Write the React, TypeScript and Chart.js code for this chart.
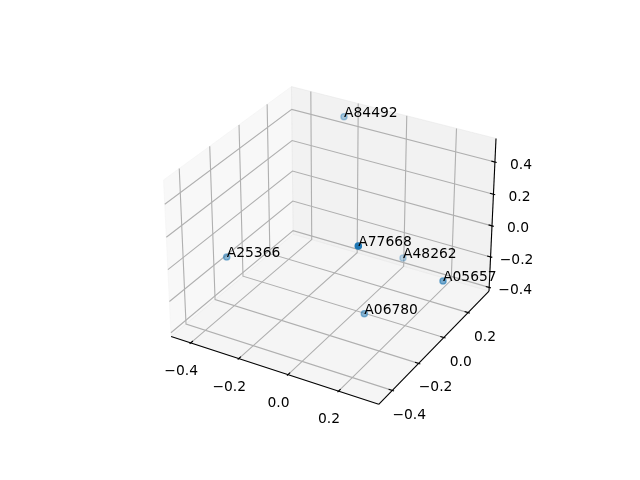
import React, { useEffect, useRef } from "react";
import { Chart, registerables } from "chart.js";
Chart.register(...registerables);

const names = ["A84492", "A77668", "A48262", "A05657", "A06780", "A25366"];
const xs = [-0.2203, -0.0452, 0.0324, 0.2356, 0.0972, -0.4139];
const ys = [0.3077, 0.0975, 0.3076, 0.2323, -0.1207, -0.22];
const zs = [0.5, -0.1, -0.3, -0.3, -0.3, -0.1];
const alphas = [0.36, 1, 0.28, 0.58, 0.5, 0.5];
const xTicks = [-0.4, -0.2, 0, 0.2];
const yTicks = [-0.4, -0.2, 0, 0.2];
const zTicks = [-0.4, -0.2, 0, 0.2, 0.4];
const xLim = [-0.4663, 0.3387];
const yLim = [-0.482, 0.362];
const zLim = [-0.405, 0.525];

const AX = { left: 143.2, right: 512.8, top: 58, bottom: 427.6 };
const VIEW = { xmin: -0.095, xmax: 0.09, ymin: -0.095, ymax: 0.09 };
const deg = Math.PI / 180;
function norm(v) { const n = Math.hypot(...v); return v.map((c) => c / n); }
function cross(a, b) { return [a[1]*b[2]-a[2]*b[1], a[2]*b[0]-a[0]*b[2], a[0]*b[1]-a[1]*b[0]]; }
function dot(a, b) { return a[0]*b[0]+a[1]*b[1]+a[2]*b[2]; }
const scaleBox = 1.8294640721620434 / Math.hypot(4, 4, 3);
const box = [4*scaleBox, 4*scaleBox, 3*scaleBox];
const R = box.map((b) => b / 2);
const el = 30*deg, az = -60*deg, dist = 10;
const eye = [R[0]+dist*Math.cos(el)*Math.cos(az), R[1]+dist*Math.cos(el)*Math.sin(az), R[2]+dist*Math.sin(el)];
const w = norm(eye.map((e,i)=>e-R[i]));
const u = norm(cross([0,0,1], w));
const v = cross(w, u);
function project(x, y, z) {
  const p = [(x-xLim[0])/(xLim[1]-xLim[0])*box[0], (y-yLim[0])/(yLim[1]-yLim[0])*box[1], (z-zLim[0])/(zLim[1]-zLim[0])*box[2]];
  const d = p.map((c,i)=>c-eye[i]);
  const zz = dot(w,d);
  return { x: dot(u,d)/-zz, y: dot(v,d)/-zz };
}

function line(pts, color, width) {
  return { type:"scatter", showLine:true, data: pts.map(p=>project(p[0],p[1],p[2])), borderColor:color, borderWidth:width, pointRadius:0, fill:false };
}
function pane(pts, color) { return { ...line(pts,color,1), backgroundColor:color, fill:"shape" }; }
const fmt=(t)=>(t<0?"\u2212":"")+Math.abs(t).toFixed(1);

export default function App() {
  const ref = useRef(null);
  useEffect(() => {
    document.body.style.margin = "0";
    const m=(l)=>(l[1]-l[0])/48;
    const x0=xLim[0]-m(xLim),x1=xLim[1]+m(xLim),y0=yLim[0]-m(yLim),y1=yLim[1]+m(yLim),z0=zLim[0]-m(zLim),z1=zLim[1]+m(zLim);
    const ds = [
      pane([[x0,y0,z0],[x0,y1,z0],[x0,y1,z1],[x0,y0,z1],[x0,y0,z0]],"rgba(242,242,242,0.5)"),
      pane([[x0,y1,z0],[x1,y1,z0],[x1,y1,z1],[x0,y1,z1],[x0,y1,z0]],"rgba(230,230,230,0.5)"),
      pane([[x0,y0,z0],[x1,y0,z0],[x1,y1,z0],[x0,y1,z0],[x0,y0,z0]],"rgba(236,236,236,0.5)"),
      ...xTicks.map(t=>line([[t,y0,z0],[t,y1,z0],[t,y1,z1]],"#b0b0b0",1.11)),
      ...yTicks.map(t=>line([[x1,t,z0],[x0,t,z0],[x0,t,z1]],"#b0b0b0",1.11)),
      ...zTicks.map(t=>line([[x0,y0,t],[x0,y1,t],[x1,y1,t]],"#b0b0b0",1.11)),
      line([[x0,y0,z0],[x1,y0,z0]],"#000",1.11),
      line([[x1,y0,z0],[x1,y1,z0]],"#000",1.11),
      line([[x1,y1,z0],[x1,y1,z1]],"#000",1.11),
      ...xTicks.map(t=>{const d=(y1-y0)/12;return line([[t,y0-0.1*d,z0],[t,y0+0.2*d,z0]],"#000",1.11)}),
      ...yTicks.map(t=>{const d=(x1-x0)/12;return line([[x1+0.1*d,t,z0],[x1-0.2*d,t,z0]],"#000",1.11)}),
      ...zTicks.map(t=>{const d=(x1-x0)/12;return line([[x1+0.1*d,y1,t],[x1-0.2*d,y1,t]],"#000",1.11)}),
      { type:"scatter", data: names.map((n,i)=>project(xs[i],ys[i],zs[i])), pointRadius:3.1, pointBorderWidth:1.39,
        pointBackgroundColor: alphas.map(a=>`rgba(31,119,180,${a})`), pointBorderColor: alphas.map(a=>`rgba(31,119,180,${a})`) },
    ];
    const labels = {
      id:"labels3d",
      afterDatasetsDraw(c){
        const {ctx,scales:{x,y}}=c;
        const px=(p)=>[x.getPixelForValue(p.x),y.getPixelForValue(p.y)];
        ctx.save();
        ctx.fillStyle="#000"; ctx.font='13.89px "DejaVu Sans"';
        ctx.textAlign="left"; ctx.textBaseline="alphabetic";
        names.forEach((n,i)=>{const [a,b]=px(project(xs[i],ys[i],zs[i])); ctx.fillText(n,a,b);});
        ctx.textAlign="center"; ctx.textBaseline="middle";
        xTicks.forEach(t=>{const [a,b]=px(project(t,y0,z0)); ctx.fillText(fmt(t),a-9.5,b+28.5);});
        yTicks.forEach(t=>{const [a,b]=px(project(x1,t,z0)); ctx.fillText(fmt(t),a+17,b+24.5);});
        zTicks.forEach(t=>{const [a,b]=px(project(x1,y1,t)); ctx.fillText(fmt(t),a+26,b+3);});
        ctx.restore();
      }
    };
    const chart = new Chart(ref.current, {
      type:"scatter",
      data:{datasets: ds.map((d,i)=>({...d, order:-i, clip:false}))},
      plugins:[labels],
      options:{ animation:false, responsive:false, layout:{padding:{left:AX.left,right:640-AX.right,top:AX.top,bottom:480-AX.bottom}},
        scales:{x:{display:false,min:VIEW.xmin,max:VIEW.xmax},y:{display:false,min:VIEW.ymin,max:VIEW.ymax}},
        plugins:{legend:{display:false},tooltip:{enabled:false}} },
    });
    return ()=>chart.destroy();
  },[]);
  return <div style={{position:"relative",width:640,height:480}}><canvas ref={ref} width={640} height={480} style={{display:"block"}}/></div>;
}
